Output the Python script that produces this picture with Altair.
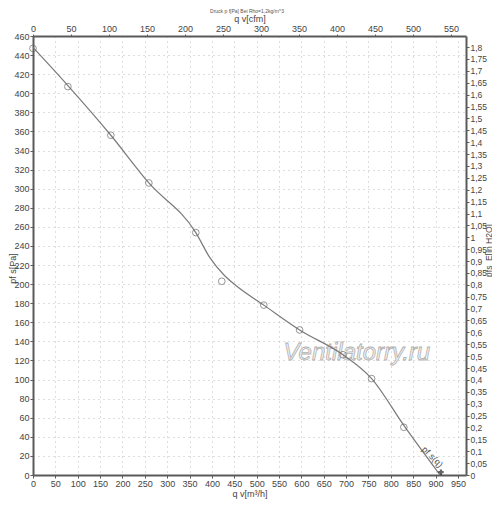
import altair as alt
import pandas as pd

# ---- data ----
q_curve = [0, 78, 174, 259, 364, 395, 428, 455, 516, 596, 693, 757, 829, 910]
p_curve = [448, 408, 356, 306, 254, 228, 209, 198, 178, 152, 126, 101, 52, 0]
q_pts = [0, 78, 174, 259, 364, 422, 516, 596, 693, 757, 829]
p_pts = [447, 407, 356, 306, 254, 203, 178, 152, 126, 101, 50]
q_end = [912]
p_end = [3]
end_label = ["pf s(q)"]
end_label_q = [893]
end_label_p = [19]
wm_text = ["Ventilatorry.ru"]
wm_q = [724]
wm_p = [128]
top_note = ["Druck p f[Pa] Bei Rho=1,2kg/m^3"]

x_ticks = list(range(0, 951, 50))
y_ticks = list(range(0, 461, 20))
cfm_ticks = list(range(0, 551, 50))
inh2o_ticks = [round(i * 0.05, 2) for i in range(37)]
x_max = 968
y_max = 460
cfm_max = 569.7
inh2o_max = 1.8467

FONT = "Liberation Sans Narrow, Liberation Sans, Arial, sans-serif"
W, H = 433, 439
LINE = "#7a7a7a"

curve_df = pd.DataFrame({"q": q_curve, "p": p_curve})
pts_df = pd.DataFrame({"q": q_pts, "p": p_pts})
end_df = pd.DataFrame({"q": q_end, "p": p_end})
lab_df = pd.DataFrame({"q": end_label_q, "p": end_label_p, "t": end_label})
wm_df = pd.DataFrame({"q": wm_q, "p": wm_p, "t": wm_text})
note_df = pd.DataFrame({"t": top_note})
axis_df = pd.DataFrame({"cfm": [0, cfm_max], "inh2o": [0, inh2o_max]})

xs = alt.Scale(domain=[0, x_max], nice=False, zero=True)
ys = alt.Scale(domain=[0, y_max], nice=False, zero=True)

x_axis = alt.Axis(values=x_ticks, title="q v[m³/h]", orient="bottom", grid=True,
                  tickSize=3, labelPadding=1, titleY=18, titleBaseline="middle")
y_axis = alt.Axis(values=y_ticks, title="pf s[Pa]", orient="left", grid=True,
                  tickSize=3, labelPadding=1, titleX=-21, titleY=232,
                  titleAngle=270, titleBaseline="middle", titleAlign="center")

X = alt.X("q:Q", scale=xs, axis=x_axis)
Y = alt.Y("p:Q", scale=ys, axis=y_axis)

line = alt.Chart(curve_df).mark_line(color=LINE, strokeWidth=1.2, interpolate="monotone").encode(
    x=X, y=Y)
pts = alt.Chart(pts_df).mark_point(shape="circle", filled=False, color="#6a6a6a",
                                   size=45, strokeWidth=1).encode(x=X, y=Y)
endpt = alt.Chart(end_df).mark_point(shape="cross", filled=True, color="#222", size=30).encode(
    x=X, y=Y)
endlab = alt.Chart(lab_df).mark_text(font=FONT, fontSize=9, angle=45, color="#555").encode(
    x=X, y=Y, text="t:N")
wm = alt.Chart(wm_df).mark_text(font="Liberation Sans", fontSize=24, fontStyle="italic",
                                fill="#f2f2f2", stroke="#b0b0b0", strokeWidth=0.8).encode(
    x=X, y=Y, text="t:N")
note = alt.Chart(note_df).mark_text(font=FONT, fontSize=5, color="#555").encode(
    x=alt.value(214), y=alt.value(-25), text="t:N"
)

main = alt.layer(wm, line, pts, endpt, endlab, note)

axes = alt.Chart(axis_df).mark_point(opacity=0).encode(
    x=alt.X("cfm:Q", scale=alt.Scale(domain=[0, cfm_max], nice=False, zero=True),
            axis=alt.Axis(values=cfm_ticks, title="q v[cfm]", orient="top", grid=False,
                          tickSize=2, labelPadding=1, titleY=-18, titleBaseline="middle")),
    y=alt.Y("inh2o:Q", scale=alt.Scale(domain=[0, inh2o_max], nice=False, zero=True),
            axis=alt.Axis(values=inh2o_ticks, title="pfs_E[in H2O]", orient="right", grid=False,
                          tickSize=3, labelPadding=1, labelFontSize=8.5, titleFontSize=8.5,
                          labelExpr="replace(format(datum.value, '.2~f'), '.', ',')",
                          titleX=22, titleY=214, titleAngle=270, titleBaseline="middle",
                          titleAlign="center")),
)

chart = alt.layer(main, axes).resolve_scale(x="independent", y="independent").properties(
    width=W, height=H,
    autosize=alt.AutoSizeParams(type="none"),
    padding={"left": 25, "top": 28, "right": 26, "bottom": 25},
).configure_axis(
    labelFont=FONT, titleFont=FONT, labelFontSize=9, titleFontSize=9,
    titleFontWeight="normal", labelColor="#444", titleColor="#444",
    domainColor="#5a5a5a", domainWidth=2, tickColor="#5a5a5a",
    gridColor="#bdbdbd", gridDash=[1, 4], labelFlush=False, labelOverlap=False,
).configure_view(stroke=None)

chart.save("out.html", embed_options={"renderer": "svg", "actions": False})
